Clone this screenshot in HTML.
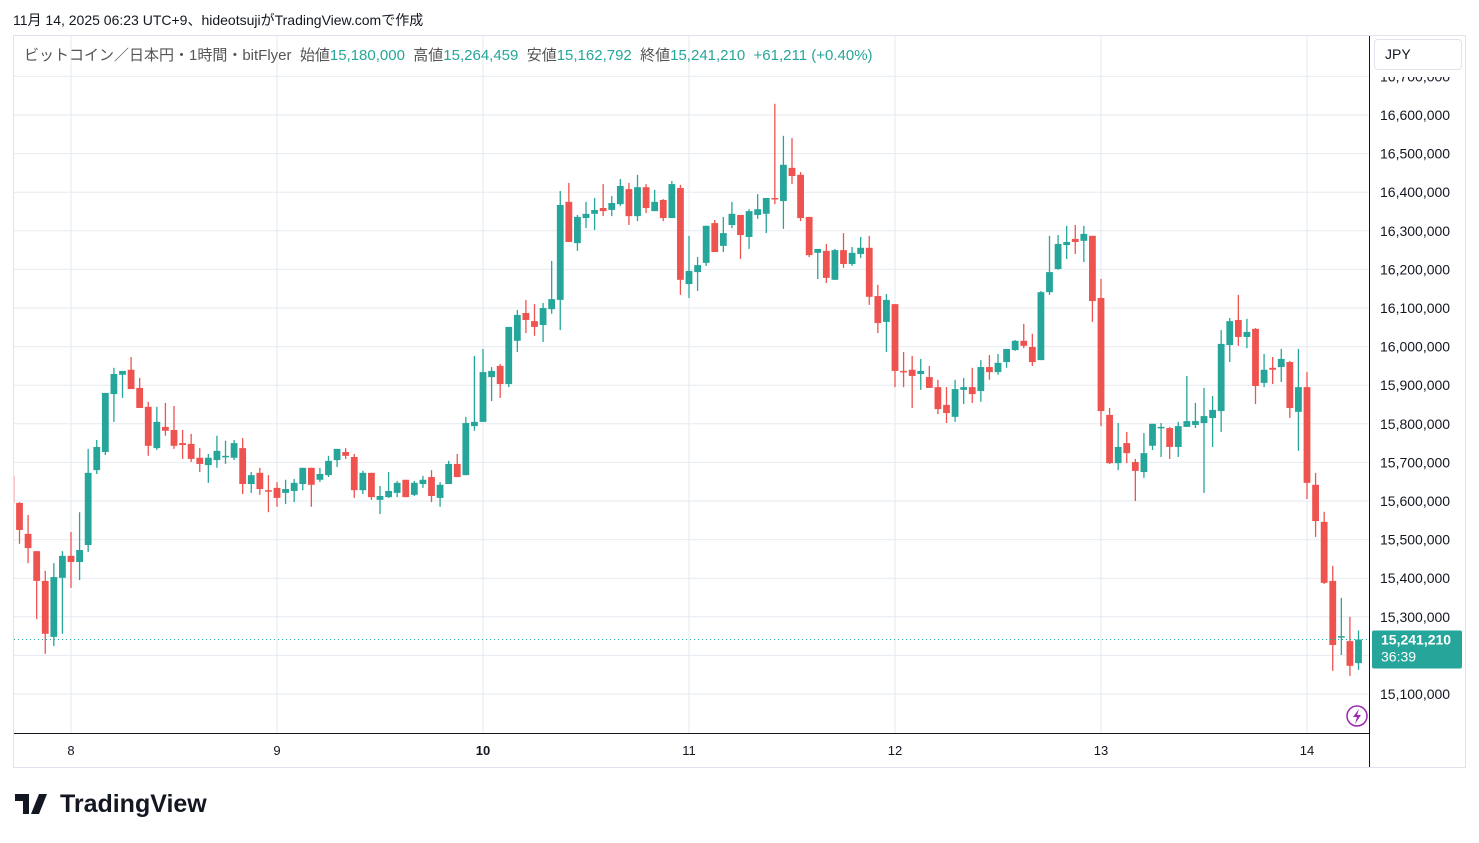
<!DOCTYPE html>
<html><head><meta charset="utf-8">
<style>
body{margin:0;background:#fff;width:1479px;height:843px;overflow:hidden;font-family:"Liberation Sans","Noto Sans CJK JP",sans-serif;}
#hdr{position:absolute;left:13px;top:10px;font-size:14px;color:#131722;}
#legend{position:absolute;left:24px;top:44px;font-size:15px;color:#555;white-space:nowrap;}
#legend .v{color:#26a69a;}
#jpy{position:absolute;left:1374px;top:39px;width:88px;height:31px;border:1px solid #e0e3eb;border-radius:4px;background:#fff;font-size:14px;line-height:29px;padding-left:10px;box-sizing:border-box;color:#131722;}
#logo{position:absolute;left:15px;top:790px;font-size:25px;font-weight:bold;color:#131722;}
</style></head><body>
<div id="hdr">11月 14, 2025 06:23 UTC+9、hideotsujiがTradingView.comで作成</div>
<svg id="chart" width="1479" height="843" style="position:absolute;left:0;top:0"></svg>
<div id="legend">ビットコイン／日本円・1時間・bitFlyer&nbsp; 始値<span class="v">15,180,000</span>&nbsp; 高値<span class="v">15,264,459</span>&nbsp; 安値<span class="v">15,162,792</span>&nbsp; 終値<span class="v">15,241,210</span>&nbsp; <span class="v">+61,211 (+0.40%)</span></div>
<div id="jpy">JPY</div>
<div id="logo"><svg width="38" height="20" style="vertical-align:-2px"><path d="M0 0h14v20h-6v-13h-8z M16 0a3 3 0 1 1 0.1 0z M24 0h8l-8 20h-8z" fill="#131722"/></svg> TradingView</div>
<script>
const opens=[15665,15595,15515,15470,15393,15248,15401,15458,15442,15486,15680,15727,15877,15927,15940,15893,15844,15737,15792,15784,15750,15748,15712,15693,15706,15714,15712,15737,15644,15673,15628,15634,15621,15626,15644,15686,15655,15667,15706,15727,15714,15628,15673,15603,15610,15621,15655,15616,15644,15662,15608,15644,15696,15667,15794,15805,15921,15950,15903,16015,16087,16066,16056,16097,16121,16375,16268,16333,16344,16359,16354,16369,16408,16338,16413,16351,16380,16333,16411,16162,16193,16217,16320,16261,16315,16341,16284,16341,16344,16385,16377,16463,16445,16336,16243,16248,16173,16250,16214,16240,16256,16131,16064,16110,15937,15940,15929,15921,15895,15849,15818,15888,15895,15885,15947,15934,15960,15991,16015,15999,15965,16141,16201,16263,16279,16274,16287,16126,15823,15698,15750,15701,15675,15743,15789,15789,15740,15792,15797,15802,15815,15833,16004,16069,16025,16046,15906,15945,15947,15960,15831,15895,15642,15546,15393,15248,15237,15180];
const highs=[15665,15597,15564,15470,15419,15439,15470,15520,15571,15735,15758,15880,15945,15937,15973,15919,15857,15844,15854,15846,15784,15774,15737,15722,15769,15756,15758,15763,15675,15686,15667,15649,15655,15657,15686,15686,15686,15717,15735,15737,15722,15678,15673,15639,15675,15652,15655,15652,15665,15680,15649,15704,15722,15818,15976,15994,15947,15955,16051,16095,16121,16110,16113,16222,16403,16424,16341,16375,16385,16421,16390,16434,16424,16445,16421,16406,16382,16429,16419,16287,16232,16313,16328,16336,16375,16341,16356,16395,16385,16629,16546,16540,16452,16336,16253,16266,16253,16294,16258,16284,16287,16160,16136,16110,15986,15976,15968,15950,15914,15895,15914,15919,15945,15965,15978,15981,15994,16017,16059,16033,16144,16287,16289,16313,16315,16313,16287,16175,15841,15802,15779,15709,15776,15800,15802,15792,15805,15924,15854,15893,15872,16043,16074,16134,16072,16048,15981,15973,15994,15963,15994,15934,15673,15572,15432,15349,15300,15264.459];
const lows=[15595,15489,15439,15294,15204,15224,15256,15375,15395,15468,15670,15719,15805,15867,15890,15841,15717,15732,15769,15735,15709,15701,15675,15647,15686,15696,15706,15618,15621,15616,15571,15585,15592,15597,15628,15585,15649,15662,15688,15709,15608,15618,15603,15566,15608,15610,15610,15613,15634,15597,15585,15644,15662,15667,15782,15805,15859,15867,15895,15986,16035,16028,16012,16085,16043,16271,16248,16307,16302,16338,16338,16364,16315,16325,16346,16351,16325,16333,16134,16126,16144,16209,16245,16245,16307,16227,16253,16331,16294,16369,16305,16421,16325,16232,16175,16165,16173,16204,16209,16230,16108,16035,15986,15895,15895,15841,15888,15893,15825,15802,15805,15851,15854,15857,15914,15927,15945,15989,15996,15950,15965,16134,16199,16227,16240,16219,16064,15794,15696,15680,15698,15600,15660,15732,15714,15709,15714,15792,15789,15621,15740,15779,15960,16002,15996,15851,15895,15903,15908,15815,15730,15605,15507,15385,15160,15201,15147,15162.792];
const closes=[15595,15525,15478,15393,15256,15403,15458,15442,15473,15673,15740,15880,15929,15937,15890,15841,15743,15805,15782,15743,15745,15709,15696,15712,15730,15717,15750,15644,15667,15631,15626,15608,15631,15647,15686,15642,15670,15704,15735,15717,15628,15673,15610,15613,15626,15647,15610,15647,15655,15613,15642,15696,15662,15802,15805,15934,15937,15903,16051,16082,16069,16051,16100,16123,16367,16271,16336,16344,16354,16351,16372,16416,16338,16413,16359,16375,16333,16421,16173,16196,16211,16313,16245,16294,16344,16289,16351,16356,16385,16382,16471,16442,16333,16237,16253,16178,16250,16214,16243,16256,16129,16061,16121,15937,15934,15924,15937,15893,15838,15828,15890,15895,15877,15947,15934,15958,15994,16015,16002,15960,16141,16193,16266,16271,16271,16292,16118,15833,15698,15740,15724,15678,15724,15800,15792,15740,15794,15807,15807,15820,15836,16007,16066,16025,16038,15898,15940,15940,15968,15841,15895,15647,15548,15388,15227,15250,15173,15241.21];
const priceTicks=[15100000,15200000,15300000,15400000,15500000,15600000,15700000,15800000,15900000,16000000,16100000,16200000,16300000,16400000,16500000,16600000,16700000];
const dayLabels=["8","9","10","11","12","13","14"];
const firstDayIndex=7;
const lastPrice=15241210;

const svg=document.getElementById('chart');
const NS='http://www.w3.org/2000/svg';
const yOf=p=>115+(16600000-p)/100000*38.6;
const xOf=i=>71+(i-firstDayIndex)*206/24;
function mk(t,a){const e=document.createElementNS(NS,t);for(const k in a)e.setAttribute(k,a[k]);return e;}
const defs=mk('defs',{});
const cp=mk('clipPath',{id:'cp'});cp.appendChild(mk('rect',{x:14,y:36,width:1355,height:697}));defs.appendChild(cp);
const cpa=mk('clipPath',{id:'cpa'});cpa.appendChild(mk('rect',{x:1370,y:77,width:110,height:656}));defs.appendChild(cpa);
svg.appendChild(defs);
const frame=mk('rect',{x:13.5,y:35.5,width:1452,height:732,fill:'none',stroke:'#e0e3eb'});


svg.appendChild(frame);
const axg=mk('g',{'clip-path':'url(#cpa)'});svg.appendChild(axg);
priceTicks.forEach(p=>{const y=yOf(p);if(y<40||y>730)return;
 const g=mk('line',{x1:14,x2:1369,y1:y,y2:y,stroke:'#e6ebf1'});
 
 
 svg.appendChild(g);
 const t=mk('text',{x:1380,y:y+5,'font-size':14,fill:'#131722','font-family':'Liberation Sans, sans-serif'});
 t.textContent=p.toLocaleString('en-US');
 
 
 axg.appendChild(t);
});
dayLabels.forEach((d,k)=>{const x=xOf(firstDayIndex+k*24);
 const g=mk('line',{x1:x,x2:x,y1:36,y2:733,stroke:'#e6ebf1'});
 
 
 svg.appendChild(g);
 const t=mk('text',{x:x,y:755,'font-size':13,fill:'#131722','text-anchor':'middle','font-weight':d==='10'?'bold':'normal','font-family':'Liberation Sans, sans-serif'});
 t.textContent=d;
 
 
 svg.appendChild(t);
});
const ax1=mk('line',{x1:1369.5,x2:1369.5,y1:36,y2:767,stroke:'#131722'});


svg.appendChild(ax1);
const ax2=mk('line',{x1:14,x2:1369,y1:733.5,y2:733.5,stroke:'#131722'});


svg.appendChild(ax2);
const g=mk('g',{'clip-path':'url(#cp)'});
svg.appendChild(g);
for(let i=0;i<opens.length;i++){
 const o=opens[i]*1000,h=highs[i]*1000,l=lows[i]*1000,c=closes[i]*1000;
 const col=c>=o?'#26a69a':'#ef5350';const x=xOf(i);
 const w=mk('line',{x1:x,x2:x,y1:yOf(h),y2:yOf(l),stroke:col,'stroke-width':1.3});
 
 
 g.appendChild(w);
 const yt=yOf(Math.max(o,c)),yb=yOf(Math.min(o,c));
 const b=mk('rect',{x:x-3.4,y:yt,width:6.8,height:Math.max(1.5,yb-yt),fill:col});
 
 
 g.appendChild(b);
}
const ly=yOf(lastPrice);
const pl=mk('line',{x1:14,x2:1369,y1:ly,y2:ly,stroke:'#26a69a','stroke-dasharray':'1 3'});


svg.appendChild(pl);
const pb=mk('rect',{x:1372,y:ly-9,width:90,height:38,fill:'#26a69a',rx:2});


svg.appendChild(pb);
const t1=mk('text',{x:1381,y:ly+5,'font-size':14,fill:'#fff','font-weight':'bold','font-family':'Liberation Sans, sans-serif'});t1.textContent='15,241,210';


svg.appendChild(t1);
const t2=mk('text',{x:1381,y:ly+22,'font-size':14,fill:'#fff','font-family':'Liberation Sans, sans-serif'});t2.textContent='36:39';


svg.appendChild(t2);
const ic=mk('circle',{cx:1357,cy:716,r:10,fill:'#fff',stroke:'#9c27b0','stroke-width':1.5});


svg.appendChild(ic);
const bolt=mk('path',{d:'M1359 709 L1353 717 L1357 717 L1355 724 L1361 715 L1357 715 Z',fill:'#9c27b0'});


svg.appendChild(bolt);
</script>
</body></html>
